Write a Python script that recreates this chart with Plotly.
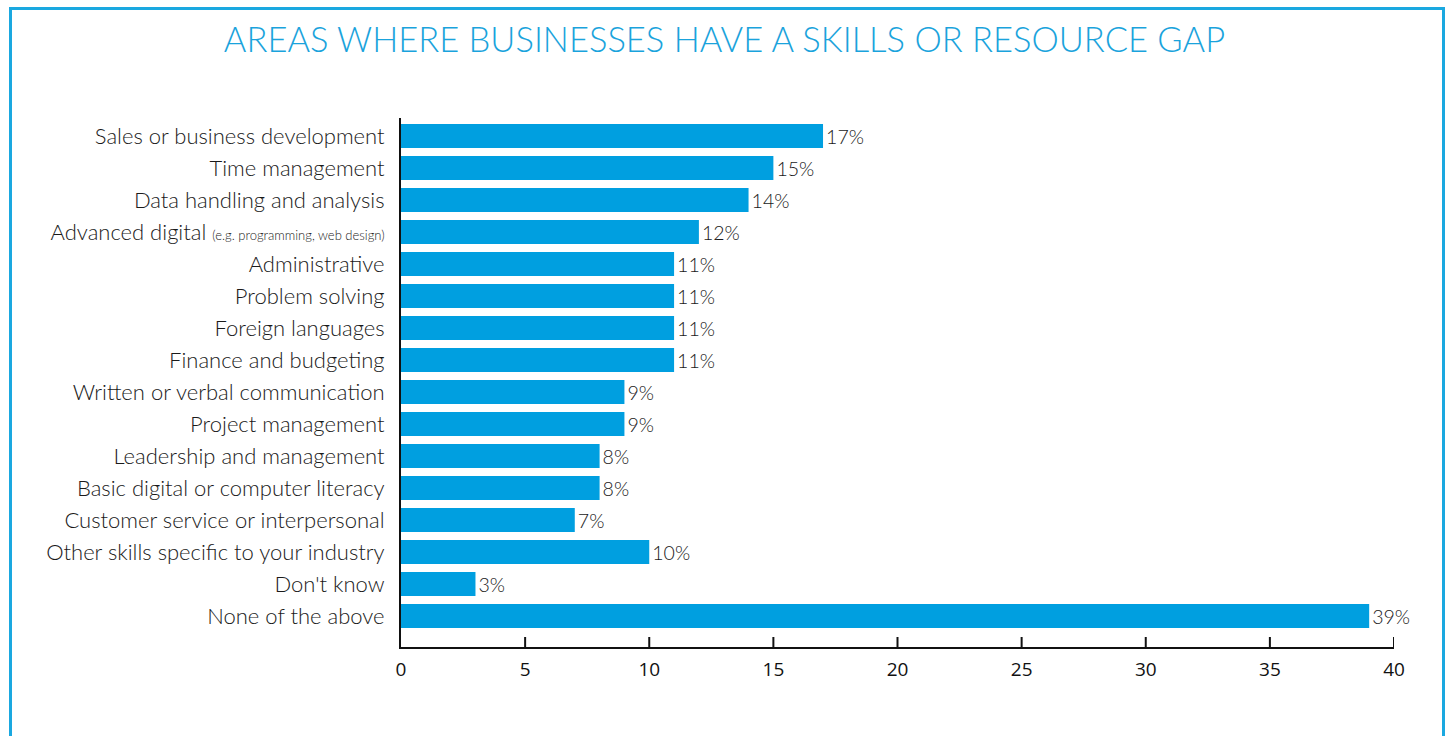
import plotly.graph_objects as go

# Survey results: share of businesses reporting each gap (%)
categories = [
    "Sales or business development",
    "Time management",
    "Data handling and analysis",
    "Advanced digital <span style='font-size:13px'>(e.g. programming, web design)</span>",
    "Administrative",
    "Problem solving",
    "Foreign languages",
    "Finance and budgeting",
    "Written or verbal communication",
    "Project management",
    "Leadership and management",
    "Basic digital or computer literacy",
    "Customer service or interpersonal",
    "Other skills specific to your industry",
    "Don't know",
    "None of the above",
]
values = [17, 15, 14, 12, 11, 11, 11, 11, 9, 9, 8, 8, 7, 10, 3, 39]
x_ticks = [0, 5, 10, 15, 20, 25, 30, 35, 40]

BLUE = "#009fe0"
TITLE_BLUE = "#1aa3dc"
W, H = 1449, 736
ML, MR, MT, MB = 401, 55, 118, 89
PW, PH = W - ML - MR, H - MT - MB
TICK_LEN = 10


def px_to_paper_x(px):
    return (px - ML) / PW


def px_to_paper_y(py):
    return (H - MB - py) / PH


fig = go.Figure(
    go.Bar(
        x=values,
        y=list(range(len(categories))),
        orientation="h",
        marker=dict(color=BLUE, line=dict(width=0)),
        text=[f"{v}%" for v in values],
        textposition="outside",
        textfont=dict(family="Lato, sans-serif", size=22, color="#1a1a1a", weight=300),
        cliponaxis=False,
        width=0.75,
        hoverinfo="skip",
    )
)

# upward tick marks on the value axis
tick_shapes = [
    dict(
        type="line",
        xref="x",
        yref="paper",
        x0=t,
        x1=t,
        y0=0,
        y1=TICK_LEN / PH,
        line=dict(color="#111", width=2),
        layer="above",
    )
    for t in x_ticks[1:]
]

frame = dict(
    type="rect",
    xref="paper",
    yref="paper",
    x0=px_to_paper_x(10.5),
    x1=px_to_paper_x(1443.5),
    y0=px_to_paper_y(745),
    y1=px_to_paper_y(8.5),
    line=dict(color="#1aa8e0", width=3),
    fillcolor="rgba(0,0,0,0)",
    layer="below",
)

fig.update_layout(
    width=W,
    height=H,
    margin=dict(l=ML, r=MR, t=MT, b=MB),
    paper_bgcolor="white",
    plot_bgcolor="white",
    showlegend=False,
    title=dict(
        text="AREAS WHERE BUSINESSES HAVE A SKILLS OR RESOURCE GAP",
        x=0.5,
        xanchor="center",
        y=1 - 40 / H,
        yanchor="middle",
        font=dict(family="Lato, sans-serif", size=34.5, color=TITLE_BLUE, weight=300),
    ),
    xaxis=dict(
        range=[0, 40],
        tickvals=x_ticks,
        ticktext=[str(t) for t in x_ticks],
        showgrid=False,
        zeroline=False,
        showline=True,
        linecolor="#111",
        linewidth=2,
        layer="above traces",
        ticks="",
        ticklabelstandoff=4,
        tickfont=dict(family="Open Sans, sans-serif", size=19, color="#111"),
    ),
    yaxis=dict(
        range=[15.97, -0.5625],
        tickvals=list(range(len(categories))),
        ticktext=categories,
        showgrid=False,
        zeroline=False,
        showline=True,
        linecolor="#111",
        linewidth=2,
        ticks="",
        ticklabelstandoff=10,
        tickfont=dict(family="Lato, sans-serif", size=22, color="#1a1a1a", weight=300),
    ),
    shapes=[frame] + tick_shapes,
)

fig.write_html("out.html")
